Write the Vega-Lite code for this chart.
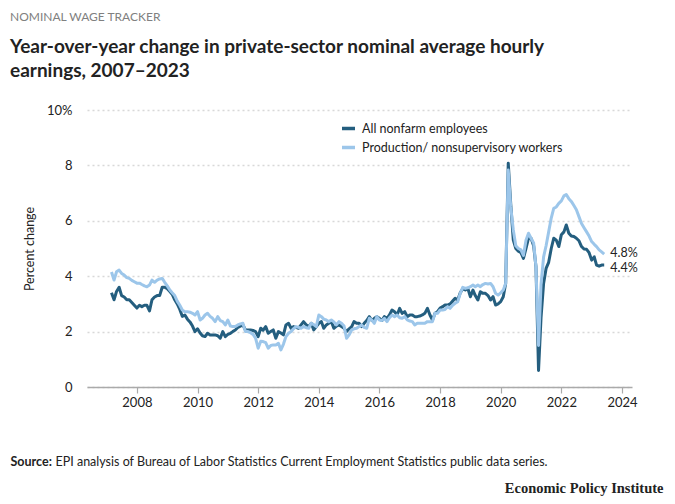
{
"$schema": "https://vega.github.io/schema/vega-lite/v6.json",
"width": 545,
"height": 277,
"autosize": {"type": "none"},
"padding": {"left": 87, "top": 110, "right": 43, "bottom": 117},
"background": "white",
"config": {
  "font": "Lato",
  "view": {"stroke": null},
  "axis": {"labelFont": "Lato", "titleFont": "Lato", "labelColor": "#222", "titleColor": "#222", "labelFontSize": 13, "titleFontSize": 12.5, "titleFontWeight": "normal"}
},
"title": {
  "text": "NOMINAL WAGE TRACKER",
  "subtitle": ["Year-over-year change in private-sector nominal average hourly", "earnings, 2007–2023"],
  "anchor": "start",
  "frame": "group",
  "dx": -77,
  "offset": 22,
  "font": "Lato",
  "fontSize": 12,
  "fontWeight": "normal",
  "color": "#808080",
  "subtitleFont": "Lato",
  "subtitleFontSize": 19,
  "subtitleFontWeight": "bold",
  "subtitleColor": "#222",
  "subtitlePadding": 14,
  "subtitleLineHeight": 24
},
"data": {"values": [
{"date":"2007-03-01","series":"All nonfarm employees","value":3.4},
{"date":"2007-04-01","series":"All nonfarm employees","value":3.15},
{"date":"2007-05-01","series":"All nonfarm employees","value":3.45},
{"date":"2007-06-01","series":"All nonfarm employees","value":3.6},
{"date":"2007-07-01","series":"All nonfarm employees","value":3.3},
{"date":"2007-08-01","series":"All nonfarm employees","value":3.25},
{"date":"2007-09-01","series":"All nonfarm employees","value":3.15},
{"date":"2007-10-01","series":"All nonfarm employees","value":3.15},
{"date":"2007-11-01","series":"All nonfarm employees","value":3.05},
{"date":"2007-12-01","series":"All nonfarm employees","value":2.95},
{"date":"2008-01-01","series":"All nonfarm employees","value":2.85},
{"date":"2008-02-01","series":"All nonfarm employees","value":2.95},
{"date":"2008-03-01","series":"All nonfarm employees","value":2.9},
{"date":"2008-04-01","series":"All nonfarm employees","value":2.95},
{"date":"2008-05-01","series":"All nonfarm employees","value":2.95},
{"date":"2008-06-01","series":"All nonfarm employees","value":2.75},
{"date":"2008-07-01","series":"All nonfarm employees","value":3.15},
{"date":"2008-08-01","series":"All nonfarm employees","value":3.25},
{"date":"2008-09-01","series":"All nonfarm employees","value":3.3},
{"date":"2008-10-01","series":"All nonfarm employees","value":3.3},
{"date":"2008-11-01","series":"All nonfarm employees","value":3.6},
{"date":"2008-12-01","series":"All nonfarm employees","value":3.6},
{"date":"2009-01-01","series":"All nonfarm employees","value":3.55},
{"date":"2009-02-01","series":"All nonfarm employees","value":3.45},
{"date":"2009-03-01","series":"All nonfarm employees","value":3.35},
{"date":"2009-04-01","series":"All nonfarm employees","value":3.15},
{"date":"2009-05-01","series":"All nonfarm employees","value":3.0},
{"date":"2009-06-01","series":"All nonfarm employees","value":2.8},
{"date":"2009-07-01","series":"All nonfarm employees","value":2.55},
{"date":"2009-08-01","series":"All nonfarm employees","value":2.6},
{"date":"2009-09-01","series":"All nonfarm employees","value":2.45},
{"date":"2009-10-01","series":"All nonfarm employees","value":2.35},
{"date":"2009-11-01","series":"All nonfarm employees","value":2.2},
{"date":"2009-12-01","series":"All nonfarm employees","value":2.0},
{"date":"2010-01-01","series":"All nonfarm employees","value":2.1},
{"date":"2010-02-01","series":"All nonfarm employees","value":1.95},
{"date":"2010-03-01","series":"All nonfarm employees","value":1.85},
{"date":"2010-04-01","series":"All nonfarm employees","value":1.82},
{"date":"2010-05-01","series":"All nonfarm employees","value":1.94},
{"date":"2010-06-01","series":"All nonfarm employees","value":1.88},
{"date":"2010-07-01","series":"All nonfarm employees","value":1.88},
{"date":"2010-08-01","series":"All nonfarm employees","value":1.88},
{"date":"2010-09-01","series":"All nonfarm employees","value":1.85},
{"date":"2010-10-01","series":"All nonfarm employees","value":1.76},
{"date":"2010-11-01","series":"All nonfarm employees","value":2.0},
{"date":"2010-12-01","series":"All nonfarm employees","value":1.82},
{"date":"2011-01-01","series":"All nonfarm employees","value":1.9},
{"date":"2011-02-01","series":"All nonfarm employees","value":1.94},
{"date":"2011-03-01","series":"All nonfarm employees","value":2.0},
{"date":"2011-04-01","series":"All nonfarm employees","value":2.06},
{"date":"2011-05-01","series":"All nonfarm employees","value":2.15},
{"date":"2011-06-01","series":"All nonfarm employees","value":2.2},
{"date":"2011-07-01","series":"All nonfarm employees","value":2.24},
{"date":"2011-08-01","series":"All nonfarm employees","value":2.06},
{"date":"2011-09-01","series":"All nonfarm employees","value":2.06},
{"date":"2011-10-01","series":"All nonfarm employees","value":2.06},
{"date":"2011-11-01","series":"All nonfarm employees","value":2.04},
{"date":"2011-12-01","series":"All nonfarm employees","value":2.0},
{"date":"2012-01-01","series":"All nonfarm employees","value":1.82},
{"date":"2012-02-01","series":"All nonfarm employees","value":2.12},
{"date":"2012-03-01","series":"All nonfarm employees","value":2.05},
{"date":"2012-04-01","series":"All nonfarm employees","value":2.18},
{"date":"2012-05-01","series":"All nonfarm employees","value":1.94},
{"date":"2012-06-01","series":"All nonfarm employees","value":2.0},
{"date":"2012-07-01","series":"All nonfarm employees","value":2.06},
{"date":"2012-08-01","series":"All nonfarm employees","value":1.76},
{"date":"2012-09-01","series":"All nonfarm employees","value":2.0},
{"date":"2012-10-01","series":"All nonfarm employees","value":1.95},
{"date":"2012-11-01","series":"All nonfarm employees","value":1.88},
{"date":"2012-12-01","series":"All nonfarm employees","value":2.24},
{"date":"2013-01-01","series":"All nonfarm employees","value":2.3},
{"date":"2013-02-01","series":"All nonfarm employees","value":2.12},
{"date":"2013-03-01","series":"All nonfarm employees","value":2.18},
{"date":"2013-04-01","series":"All nonfarm employees","value":2.15},
{"date":"2013-05-01","series":"All nonfarm employees","value":2.12},
{"date":"2013-06-01","series":"All nonfarm employees","value":2.24},
{"date":"2013-07-01","series":"All nonfarm employees","value":2.36},
{"date":"2013-08-01","series":"All nonfarm employees","value":2.25},
{"date":"2013-09-01","series":"All nonfarm employees","value":2.18},
{"date":"2013-10-01","series":"All nonfarm employees","value":2.3},
{"date":"2013-11-01","series":"All nonfarm employees","value":2.06},
{"date":"2013-12-01","series":"All nonfarm employees","value":2.18},
{"date":"2014-01-01","series":"All nonfarm employees","value":2.3},
{"date":"2014-02-01","series":"All nonfarm employees","value":2.36},
{"date":"2014-03-01","series":"All nonfarm employees","value":2.12},
{"date":"2014-04-01","series":"All nonfarm employees","value":2.24},
{"date":"2014-05-01","series":"All nonfarm employees","value":2.3},
{"date":"2014-06-01","series":"All nonfarm employees","value":2.36},
{"date":"2014-07-01","series":"All nonfarm employees","value":2.12},
{"date":"2014-08-01","series":"All nonfarm employees","value":2.2},
{"date":"2014-09-01","series":"All nonfarm employees","value":2.24},
{"date":"2014-10-01","series":"All nonfarm employees","value":2.18},
{"date":"2014-11-01","series":"All nonfarm employees","value":2.12},
{"date":"2014-12-01","series":"All nonfarm employees","value":2.0},
{"date":"2015-01-01","series":"All nonfarm employees","value":2.1},
{"date":"2015-02-01","series":"All nonfarm employees","value":2.18},
{"date":"2015-03-01","series":"All nonfarm employees","value":2.36},
{"date":"2015-04-01","series":"All nonfarm employees","value":2.3},
{"date":"2015-05-01","series":"All nonfarm employees","value":2.3},
{"date":"2015-06-01","series":"All nonfarm employees","value":2.18},
{"date":"2015-07-01","series":"All nonfarm employees","value":2.3},
{"date":"2015-08-01","series":"All nonfarm employees","value":2.4},
{"date":"2015-09-01","series":"All nonfarm employees","value":2.54},
{"date":"2015-10-01","series":"All nonfarm employees","value":2.4},
{"date":"2015-11-01","series":"All nonfarm employees","value":2.48},
{"date":"2015-12-01","series":"All nonfarm employees","value":2.54},
{"date":"2016-01-01","series":"All nonfarm employees","value":2.48},
{"date":"2016-02-01","series":"All nonfarm employees","value":2.4},
{"date":"2016-03-01","series":"All nonfarm employees","value":2.54},
{"date":"2016-04-01","series":"All nonfarm employees","value":2.48},
{"date":"2016-05-01","series":"All nonfarm employees","value":2.6},
{"date":"2016-06-01","series":"All nonfarm employees","value":2.78},
{"date":"2016-07-01","series":"All nonfarm employees","value":2.72},
{"date":"2016-08-01","series":"All nonfarm employees","value":2.6},
{"date":"2016-09-01","series":"All nonfarm employees","value":2.84},
{"date":"2016-10-01","series":"All nonfarm employees","value":2.66},
{"date":"2016-11-01","series":"All nonfarm employees","value":2.72},
{"date":"2016-12-01","series":"All nonfarm employees","value":2.54},
{"date":"2017-01-01","series":"All nonfarm employees","value":2.6},
{"date":"2017-02-01","series":"All nonfarm employees","value":2.6},
{"date":"2017-03-01","series":"All nonfarm employees","value":2.54},
{"date":"2017-04-01","series":"All nonfarm employees","value":2.54},
{"date":"2017-05-01","series":"All nonfarm employees","value":2.56},
{"date":"2017-06-01","series":"All nonfarm employees","value":2.6},
{"date":"2017-07-01","series":"All nonfarm employees","value":2.66},
{"date":"2017-08-01","series":"All nonfarm employees","value":2.84},
{"date":"2017-09-01","series":"All nonfarm employees","value":2.6},
{"date":"2017-10-01","series":"All nonfarm employees","value":2.42},
{"date":"2017-11-01","series":"All nonfarm employees","value":2.66},
{"date":"2017-12-01","series":"All nonfarm employees","value":2.72},
{"date":"2018-01-01","series":"All nonfarm employees","value":2.85},
{"date":"2018-02-01","series":"All nonfarm employees","value":2.9},
{"date":"2018-03-01","series":"All nonfarm employees","value":2.96},
{"date":"2018-04-01","series":"All nonfarm employees","value":2.96},
{"date":"2018-05-01","series":"All nonfarm employees","value":3.0},
{"date":"2018-06-01","series":"All nonfarm employees","value":3.1},
{"date":"2018-07-01","series":"All nonfarm employees","value":3.2},
{"date":"2018-08-01","series":"All nonfarm employees","value":3.14},
{"date":"2018-09-01","series":"All nonfarm employees","value":3.4},
{"date":"2018-10-01","series":"All nonfarm employees","value":3.55},
{"date":"2018-11-01","series":"All nonfarm employees","value":3.5},
{"date":"2018-12-01","series":"All nonfarm employees","value":3.56},
{"date":"2019-01-01","series":"All nonfarm employees","value":3.26},
{"date":"2019-02-01","series":"All nonfarm employees","value":3.5},
{"date":"2019-03-01","series":"All nonfarm employees","value":3.3},
{"date":"2019-04-01","series":"All nonfarm employees","value":3.14},
{"date":"2019-05-01","series":"All nonfarm employees","value":3.44},
{"date":"2019-06-01","series":"All nonfarm employees","value":3.38},
{"date":"2019-07-01","series":"All nonfarm employees","value":3.38},
{"date":"2019-08-01","series":"All nonfarm employees","value":3.3},
{"date":"2019-09-01","series":"All nonfarm employees","value":3.14},
{"date":"2019-10-01","series":"All nonfarm employees","value":3.26},
{"date":"2019-11-01","series":"All nonfarm employees","value":2.96},
{"date":"2019-12-01","series":"All nonfarm employees","value":3.0},
{"date":"2020-01-01","series":"All nonfarm employees","value":3.08},
{"date":"2020-02-01","series":"All nonfarm employees","value":3.26},
{"date":"2020-03-01","series":"All nonfarm employees","value":3.74},
{"date":"2020-04-01","series":"All nonfarm employees","value":8.08},
{"date":"2020-05-01","series":"All nonfarm employees","value":6.6},
{"date":"2020-06-01","series":"All nonfarm employees","value":5.3},
{"date":"2020-07-01","series":"All nonfarm employees","value":5.0},
{"date":"2020-08-01","series":"All nonfarm employees","value":4.9},
{"date":"2020-09-01","series":"All nonfarm employees","value":4.85},
{"date":"2020-10-01","series":"All nonfarm employees","value":4.64},
{"date":"2020-11-01","series":"All nonfarm employees","value":5.0},
{"date":"2020-12-01","series":"All nonfarm employees","value":5.37},
{"date":"2021-01-01","series":"All nonfarm employees","value":5.37},
{"date":"2021-02-01","series":"All nonfarm employees","value":5.1},
{"date":"2021-03-01","series":"All nonfarm employees","value":4.34},
{"date":"2021-04-01","series":"All nonfarm employees","value":0.6},
{"date":"2021-05-01","series":"All nonfarm employees","value":2.5},
{"date":"2021-06-01","series":"All nonfarm employees","value":3.74},
{"date":"2021-07-01","series":"All nonfarm employees","value":4.28},
{"date":"2021-08-01","series":"All nonfarm employees","value":4.5},
{"date":"2021-09-01","series":"All nonfarm employees","value":5.0},
{"date":"2021-10-01","series":"All nonfarm employees","value":5.37},
{"date":"2021-11-01","series":"All nonfarm employees","value":5.3},
{"date":"2021-12-01","series":"All nonfarm employees","value":5.07},
{"date":"2022-01-01","series":"All nonfarm employees","value":5.5},
{"date":"2022-02-01","series":"All nonfarm employees","value":5.6},
{"date":"2022-03-01","series":"All nonfarm employees","value":5.85},
{"date":"2022-04-01","series":"All nonfarm employees","value":5.55},
{"date":"2022-05-01","series":"All nonfarm employees","value":5.45},
{"date":"2022-06-01","series":"All nonfarm employees","value":5.43},
{"date":"2022-07-01","series":"All nonfarm employees","value":5.37},
{"date":"2022-08-01","series":"All nonfarm employees","value":5.28},
{"date":"2022-09-01","series":"All nonfarm employees","value":5.07},
{"date":"2022-10-01","series":"All nonfarm employees","value":4.98},
{"date":"2022-11-01","series":"All nonfarm employees","value":4.97},
{"date":"2022-12-01","series":"All nonfarm employees","value":4.85},
{"date":"2023-01-01","series":"All nonfarm employees","value":4.58},
{"date":"2023-02-01","series":"All nonfarm employees","value":4.7},
{"date":"2023-03-01","series":"All nonfarm employees","value":4.4},
{"date":"2023-04-01","series":"All nonfarm employees","value":4.36},
{"date":"2023-05-01","series":"All nonfarm employees","value":4.4},
{"date":"2023-06-01","series":"All nonfarm employees","value":4.4},
{"date":"2007-03-01","series":"Production/ nonsupervisory workers","value":4.15},
{"date":"2007-04-01","series":"Production/ nonsupervisory workers","value":3.86},
{"date":"2007-05-01","series":"Production/ nonsupervisory workers","value":4.16},
{"date":"2007-06-01","series":"Production/ nonsupervisory workers","value":4.22},
{"date":"2007-07-01","series":"Production/ nonsupervisory workers","value":4.1},
{"date":"2007-08-01","series":"Production/ nonsupervisory workers","value":4.04},
{"date":"2007-09-01","series":"Production/ nonsupervisory workers","value":3.95},
{"date":"2007-10-01","series":"Production/ nonsupervisory workers","value":3.92},
{"date":"2007-11-01","series":"Production/ nonsupervisory workers","value":3.85},
{"date":"2007-12-01","series":"Production/ nonsupervisory workers","value":3.8},
{"date":"2008-01-01","series":"Production/ nonsupervisory workers","value":3.75},
{"date":"2008-02-01","series":"Production/ nonsupervisory workers","value":3.75},
{"date":"2008-03-01","series":"Production/ nonsupervisory workers","value":3.7},
{"date":"2008-04-01","series":"Production/ nonsupervisory workers","value":3.65},
{"date":"2008-05-01","series":"Production/ nonsupervisory workers","value":3.62},
{"date":"2008-06-01","series":"Production/ nonsupervisory workers","value":3.68},
{"date":"2008-07-01","series":"Production/ nonsupervisory workers","value":3.86},
{"date":"2008-08-01","series":"Production/ nonsupervisory workers","value":3.78},
{"date":"2008-09-01","series":"Production/ nonsupervisory workers","value":3.86},
{"date":"2008-10-01","series":"Production/ nonsupervisory workers","value":3.9},
{"date":"2008-11-01","series":"Production/ nonsupervisory workers","value":3.92},
{"date":"2008-12-01","series":"Production/ nonsupervisory workers","value":3.78},
{"date":"2009-01-01","series":"Production/ nonsupervisory workers","value":3.65},
{"date":"2009-02-01","series":"Production/ nonsupervisory workers","value":3.5},
{"date":"2009-03-01","series":"Production/ nonsupervisory workers","value":3.4},
{"date":"2009-04-01","series":"Production/ nonsupervisory workers","value":3.3},
{"date":"2009-05-01","series":"Production/ nonsupervisory workers","value":3.1},
{"date":"2009-06-01","series":"Production/ nonsupervisory workers","value":2.95},
{"date":"2009-07-01","series":"Production/ nonsupervisory workers","value":2.78},
{"date":"2009-08-01","series":"Production/ nonsupervisory workers","value":2.72},
{"date":"2009-09-01","series":"Production/ nonsupervisory workers","value":2.72},
{"date":"2009-10-01","series":"Production/ nonsupervisory workers","value":2.7},
{"date":"2009-11-01","series":"Production/ nonsupervisory workers","value":2.66},
{"date":"2009-12-01","series":"Production/ nonsupervisory workers","value":2.6},
{"date":"2010-01-01","series":"Production/ nonsupervisory workers","value":2.72},
{"date":"2010-02-01","series":"Production/ nonsupervisory workers","value":2.42},
{"date":"2010-03-01","series":"Production/ nonsupervisory workers","value":2.48},
{"date":"2010-04-01","series":"Production/ nonsupervisory workers","value":2.6},
{"date":"2010-05-01","series":"Production/ nonsupervisory workers","value":2.66},
{"date":"2010-06-01","series":"Production/ nonsupervisory workers","value":2.55},
{"date":"2010-07-01","series":"Production/ nonsupervisory workers","value":2.48},
{"date":"2010-08-01","series":"Production/ nonsupervisory workers","value":2.36},
{"date":"2010-09-01","series":"Production/ nonsupervisory workers","value":2.54},
{"date":"2010-10-01","series":"Production/ nonsupervisory workers","value":2.4},
{"date":"2010-11-01","series":"Production/ nonsupervisory workers","value":2.36},
{"date":"2010-12-01","series":"Production/ nonsupervisory workers","value":2.24},
{"date":"2011-01-01","series":"Production/ nonsupervisory workers","value":2.42},
{"date":"2011-02-01","series":"Production/ nonsupervisory workers","value":2.2},
{"date":"2011-03-01","series":"Production/ nonsupervisory workers","value":2.18},
{"date":"2011-04-01","series":"Production/ nonsupervisory workers","value":2.18},
{"date":"2011-05-01","series":"Production/ nonsupervisory workers","value":2.24},
{"date":"2011-06-01","series":"Production/ nonsupervisory workers","value":2.28},
{"date":"2011-07-01","series":"Production/ nonsupervisory workers","value":2.3},
{"date":"2011-08-01","series":"Production/ nonsupervisory workers","value":2.0},
{"date":"2011-09-01","series":"Production/ nonsupervisory workers","value":2.0},
{"date":"2011-10-01","series":"Production/ nonsupervisory workers","value":1.96},
{"date":"2011-11-01","series":"Production/ nonsupervisory workers","value":1.9},
{"date":"2011-12-01","series":"Production/ nonsupervisory workers","value":1.76},
{"date":"2012-01-01","series":"Production/ nonsupervisory workers","value":1.4},
{"date":"2012-02-01","series":"Production/ nonsupervisory workers","value":1.65},
{"date":"2012-03-01","series":"Production/ nonsupervisory workers","value":1.64},
{"date":"2012-04-01","series":"Production/ nonsupervisory workers","value":1.6},
{"date":"2012-05-01","series":"Production/ nonsupervisory workers","value":1.4},
{"date":"2012-06-01","series":"Production/ nonsupervisory workers","value":1.5},
{"date":"2012-07-01","series":"Production/ nonsupervisory workers","value":1.52},
{"date":"2012-08-01","series":"Production/ nonsupervisory workers","value":1.52},
{"date":"2012-09-01","series":"Production/ nonsupervisory workers","value":1.58},
{"date":"2012-10-01","series":"Production/ nonsupervisory workers","value":1.34},
{"date":"2012-11-01","series":"Production/ nonsupervisory workers","value":1.55},
{"date":"2012-12-01","series":"Production/ nonsupervisory workers","value":1.82},
{"date":"2013-01-01","series":"Production/ nonsupervisory workers","value":1.94},
{"date":"2013-02-01","series":"Production/ nonsupervisory workers","value":2.0},
{"date":"2013-03-01","series":"Production/ nonsupervisory workers","value":2.1},
{"date":"2013-04-01","series":"Production/ nonsupervisory workers","value":2.18},
{"date":"2013-05-01","series":"Production/ nonsupervisory workers","value":2.15},
{"date":"2013-06-01","series":"Production/ nonsupervisory workers","value":2.12},
{"date":"2013-07-01","series":"Production/ nonsupervisory workers","value":2.18},
{"date":"2013-08-01","series":"Production/ nonsupervisory workers","value":2.14},
{"date":"2013-09-01","series":"Production/ nonsupervisory workers","value":2.12},
{"date":"2013-10-01","series":"Production/ nonsupervisory workers","value":2.3},
{"date":"2013-11-01","series":"Production/ nonsupervisory workers","value":2.25},
{"date":"2013-12-01","series":"Production/ nonsupervisory workers","value":2.18},
{"date":"2014-01-01","series":"Production/ nonsupervisory workers","value":2.6},
{"date":"2014-02-01","series":"Production/ nonsupervisory workers","value":2.54},
{"date":"2014-03-01","series":"Production/ nonsupervisory workers","value":2.45},
{"date":"2014-04-01","series":"Production/ nonsupervisory workers","value":2.42},
{"date":"2014-05-01","series":"Production/ nonsupervisory workers","value":2.36},
{"date":"2014-06-01","series":"Production/ nonsupervisory workers","value":2.42},
{"date":"2014-07-01","series":"Production/ nonsupervisory workers","value":2.35},
{"date":"2014-08-01","series":"Production/ nonsupervisory workers","value":2.24},
{"date":"2014-09-01","series":"Production/ nonsupervisory workers","value":2.36},
{"date":"2014-10-01","series":"Production/ nonsupervisory workers","value":2.3},
{"date":"2014-11-01","series":"Production/ nonsupervisory workers","value":2.2},
{"date":"2014-12-01","series":"Production/ nonsupervisory workers","value":1.76},
{"date":"2015-01-01","series":"Production/ nonsupervisory workers","value":1.88},
{"date":"2015-02-01","series":"Production/ nonsupervisory workers","value":2.06},
{"date":"2015-03-01","series":"Production/ nonsupervisory workers","value":2.1},
{"date":"2015-04-01","series":"Production/ nonsupervisory workers","value":2.12},
{"date":"2015-05-01","series":"Production/ nonsupervisory workers","value":2.18},
{"date":"2015-06-01","series":"Production/ nonsupervisory workers","value":2.24},
{"date":"2015-07-01","series":"Production/ nonsupervisory workers","value":2.15},
{"date":"2015-08-01","series":"Production/ nonsupervisory workers","value":2.12},
{"date":"2015-09-01","series":"Production/ nonsupervisory workers","value":2.48},
{"date":"2015-10-01","series":"Production/ nonsupervisory workers","value":2.42},
{"date":"2015-11-01","series":"Production/ nonsupervisory workers","value":2.3},
{"date":"2015-12-01","series":"Production/ nonsupervisory workers","value":2.54},
{"date":"2016-01-01","series":"Production/ nonsupervisory workers","value":2.42},
{"date":"2016-02-01","series":"Production/ nonsupervisory workers","value":2.4},
{"date":"2016-03-01","series":"Production/ nonsupervisory workers","value":2.48},
{"date":"2016-04-01","series":"Production/ nonsupervisory workers","value":2.36},
{"date":"2016-05-01","series":"Production/ nonsupervisory workers","value":2.5},
{"date":"2016-06-01","series":"Production/ nonsupervisory workers","value":2.6},
{"date":"2016-07-01","series":"Production/ nonsupervisory workers","value":2.54},
{"date":"2016-08-01","series":"Production/ nonsupervisory workers","value":2.6},
{"date":"2016-09-01","series":"Production/ nonsupervisory workers","value":2.5},
{"date":"2016-10-01","series":"Production/ nonsupervisory workers","value":2.48},
{"date":"2016-11-01","series":"Production/ nonsupervisory workers","value":2.54},
{"date":"2016-12-01","series":"Production/ nonsupervisory workers","value":2.42},
{"date":"2017-01-01","series":"Production/ nonsupervisory workers","value":2.38},
{"date":"2017-02-01","series":"Production/ nonsupervisory workers","value":2.36},
{"date":"2017-03-01","series":"Production/ nonsupervisory workers","value":2.24},
{"date":"2017-04-01","series":"Production/ nonsupervisory workers","value":2.3},
{"date":"2017-05-01","series":"Production/ nonsupervisory workers","value":2.3},
{"date":"2017-06-01","series":"Production/ nonsupervisory workers","value":2.3},
{"date":"2017-07-01","series":"Production/ nonsupervisory workers","value":2.3},
{"date":"2017-08-01","series":"Production/ nonsupervisory workers","value":2.36},
{"date":"2017-09-01","series":"Production/ nonsupervisory workers","value":2.36},
{"date":"2017-10-01","series":"Production/ nonsupervisory workers","value":2.36},
{"date":"2017-11-01","series":"Production/ nonsupervisory workers","value":2.66},
{"date":"2017-12-01","series":"Production/ nonsupervisory workers","value":2.66},
{"date":"2018-01-01","series":"Production/ nonsupervisory workers","value":2.78},
{"date":"2018-02-01","series":"Production/ nonsupervisory workers","value":2.78},
{"date":"2018-03-01","series":"Production/ nonsupervisory workers","value":2.8},
{"date":"2018-04-01","series":"Production/ nonsupervisory workers","value":2.9},
{"date":"2018-05-01","series":"Production/ nonsupervisory workers","value":2.84},
{"date":"2018-06-01","series":"Production/ nonsupervisory workers","value":2.95},
{"date":"2018-07-01","series":"Production/ nonsupervisory workers","value":3.02},
{"date":"2018-08-01","series":"Production/ nonsupervisory workers","value":3.08},
{"date":"2018-09-01","series":"Production/ nonsupervisory workers","value":3.38},
{"date":"2018-10-01","series":"Production/ nonsupervisory workers","value":3.6},
{"date":"2018-11-01","series":"Production/ nonsupervisory workers","value":3.56},
{"date":"2018-12-01","series":"Production/ nonsupervisory workers","value":3.58},
{"date":"2019-01-01","series":"Production/ nonsupervisory workers","value":3.62},
{"date":"2019-02-01","series":"Production/ nonsupervisory workers","value":3.68},
{"date":"2019-03-01","series":"Production/ nonsupervisory workers","value":3.62},
{"date":"2019-04-01","series":"Production/ nonsupervisory workers","value":3.68},
{"date":"2019-05-01","series":"Production/ nonsupervisory workers","value":3.62},
{"date":"2019-06-01","series":"Production/ nonsupervisory workers","value":3.7},
{"date":"2019-07-01","series":"Production/ nonsupervisory workers","value":3.74},
{"date":"2019-08-01","series":"Production/ nonsupervisory workers","value":3.72},
{"date":"2019-09-01","series":"Production/ nonsupervisory workers","value":3.74},
{"date":"2019-10-01","series":"Production/ nonsupervisory workers","value":3.62},
{"date":"2019-11-01","series":"Production/ nonsupervisory workers","value":3.38},
{"date":"2019-12-01","series":"Production/ nonsupervisory workers","value":3.32},
{"date":"2020-01-01","series":"Production/ nonsupervisory workers","value":3.4},
{"date":"2020-02-01","series":"Production/ nonsupervisory workers","value":3.5},
{"date":"2020-03-01","series":"Production/ nonsupervisory workers","value":3.74},
{"date":"2020-04-01","series":"Production/ nonsupervisory workers","value":7.83},
{"date":"2020-05-01","series":"Production/ nonsupervisory workers","value":6.5},
{"date":"2020-06-01","series":"Production/ nonsupervisory workers","value":5.67},
{"date":"2020-07-01","series":"Production/ nonsupervisory workers","value":5.1},
{"date":"2020-08-01","series":"Production/ nonsupervisory workers","value":5.0},
{"date":"2020-09-01","series":"Production/ nonsupervisory workers","value":4.95},
{"date":"2020-10-01","series":"Production/ nonsupervisory workers","value":4.75},
{"date":"2020-11-01","series":"Production/ nonsupervisory workers","value":5.3},
{"date":"2020-12-01","series":"Production/ nonsupervisory workers","value":5.55},
{"date":"2021-01-01","series":"Production/ nonsupervisory workers","value":5.37},
{"date":"2021-02-01","series":"Production/ nonsupervisory workers","value":5.2},
{"date":"2021-03-01","series":"Production/ nonsupervisory workers","value":4.34},
{"date":"2021-04-01","series":"Production/ nonsupervisory workers","value":1.5},
{"date":"2021-05-01","series":"Production/ nonsupervisory workers","value":3.7},
{"date":"2021-06-01","series":"Production/ nonsupervisory workers","value":4.7},
{"date":"2021-07-01","series":"Production/ nonsupervisory workers","value":5.1},
{"date":"2021-08-01","series":"Production/ nonsupervisory workers","value":5.6},
{"date":"2021-09-01","series":"Production/ nonsupervisory workers","value":6.1},
{"date":"2021-10-01","series":"Production/ nonsupervisory workers","value":6.45},
{"date":"2021-11-01","series":"Production/ nonsupervisory workers","value":6.5},
{"date":"2021-12-01","series":"Production/ nonsupervisory workers","value":6.63},
{"date":"2022-01-01","series":"Production/ nonsupervisory workers","value":6.72},
{"date":"2022-02-01","series":"Production/ nonsupervisory workers","value":6.9},
{"date":"2022-03-01","series":"Production/ nonsupervisory workers","value":6.95},
{"date":"2022-04-01","series":"Production/ nonsupervisory workers","value":6.8},
{"date":"2022-05-01","series":"Production/ nonsupervisory workers","value":6.7},
{"date":"2022-06-01","series":"Production/ nonsupervisory workers","value":6.55},
{"date":"2022-07-01","series":"Production/ nonsupervisory workers","value":6.4},
{"date":"2022-08-01","series":"Production/ nonsupervisory workers","value":6.15},
{"date":"2022-09-01","series":"Production/ nonsupervisory workers","value":5.9},
{"date":"2022-10-01","series":"Production/ nonsupervisory workers","value":5.75},
{"date":"2022-11-01","series":"Production/ nonsupervisory workers","value":5.6},
{"date":"2022-12-01","series":"Production/ nonsupervisory workers","value":5.45},
{"date":"2023-01-01","series":"Production/ nonsupervisory workers","value":5.25},
{"date":"2023-02-01","series":"Production/ nonsupervisory workers","value":5.15},
{"date":"2023-03-01","series":"Production/ nonsupervisory workers","value":5.07},
{"date":"2023-04-01","series":"Production/ nonsupervisory workers","value":4.95},
{"date":"2023-05-01","series":"Production/ nonsupervisory workers","value":4.88},
{"date":"2023-06-01","series":"Production/ nonsupervisory workers","value":4.8}
]},
"layer": [
  {
    "layer": [
      {
        "mark": {"type": "line", "strokeWidth": 3, "strokeJoin": "round"},
        "encoding": {
          "x": {"field": "date", "type": "temporal",
            "scale": {"domain": [{"year": 2006, "month": 5, "date": 10}, {"year": 2024, "month": 5, "date": 1}]},
            "axis": {"values": [{"year": 2008}, {"year": 2010}, {"year": 2012}, {"year": 2014}, {"year": 2016}, {"year": 2018}, {"year": 2020}, {"year": 2022}, {"year": 2024}],
              "format": "%Y", "grid": false, "domainColor": "#aaaaaa", "domainWidth": 1.5, "tickColor": "#aaaaaa", "tickSize": 6, "tickWidth": 1.2, "labelPadding": 3,
              "title": "Source:", "titleX": -77, "titleY": 78, "titleAlign": "left", "titleAnchor": "start", "titleBaseline": "alphabetic", "titleFontWeight": "bold", "titleFontSize": 12.5}},
          "y": {"field": "value", "type": "quantitative",
            "scale": {"domain": [0, 10]},
            "axis": {"values": [0, 2, 4, 6, 8, 10], "labelExpr": "datum.value == 10 ? '10%' : datum.label", "domain": false, "ticks": false, "labelPadding": 15,
              "grid": true, "gridColor": "#d8d8d8", "gridDash": [2, 3], "gridWidth": 1.5,
              "title": "Percent change", "titlePadding": 10}},
          "color": {"field": "series", "type": "nominal",
            "scale": {"domain": ["All nonfarm employees", "Production/ nonsupervisory workers"], "range": ["#245e7f", "#9cc6ea"]},
            "legend": {"title": null, "orient": "none", "legendX": 253, "legendY": 10, "padding": 0, "symbolType": "stroke", "symbolStrokeWidth": 3.5, "symbolSize": 170, "labelFont": "Lato", "labelFontSize": 12.5, "labelColor": "#222", "labelLimit": 400, "rowPadding": 3, "labelOffset": 5}}
        }
      },
      {
        "transform": [{"filter": {"field": "date", "timeUnit": "yearmonth", "equal": {"year": 2023, "month": 6}}}],
        "mark": {"type": "text", "align": "left", "baseline": "middle", "dx": 6, "dy": {"expr": "datum.value > 4.6 ? -1 : 3"}, "fontSize": 12.5, "color": "#222", "text": {"expr": "format(datum.value, '.1f') + '%'"}},
        "encoding": {
          "x": {"field": "date", "type": "temporal"},
          "y": {"field": "value", "type": "quantitative"}
        }
      }
    ]
  },
  {
    "mark": {"type": "line", "strokeOpacity": 0},
    "encoding": {
      "x": {"field": "date", "type": "temporal",
        "axis": {"orient": "top", "labels": false, "ticks": false, "domain": false, "grid": false,
          "title": "EPI analysis of Bureau of Labor Statistics Current Employment Statistics public data series.",
          "titleX": -32, "titleY": 355, "titleAlign": "left", "titleAnchor": "start", "titleBaseline": "alphabetic", "titleFontSize": 12.5, "titleFontWeight": "normal"}},
      "y": {"field": "value", "type": "quantitative",
        "axis": {"orient": "right", "labels": false, "ticks": false, "domain": false, "grid": false,
          "title": "Economic Policy Institute", "titleAngle": 0, "titleX": 31, "titleY": 382, "titleAlign": "right", "titleAnchor": "end", "titleBaseline": "alphabetic",
          "titleFont": "Liberation Serif", "titleFontWeight": "bold", "titleFontSize": 14.5}}
    }
  }
],
"resolve": {"scale": {"x": "independent", "y": "independent"}}
}
